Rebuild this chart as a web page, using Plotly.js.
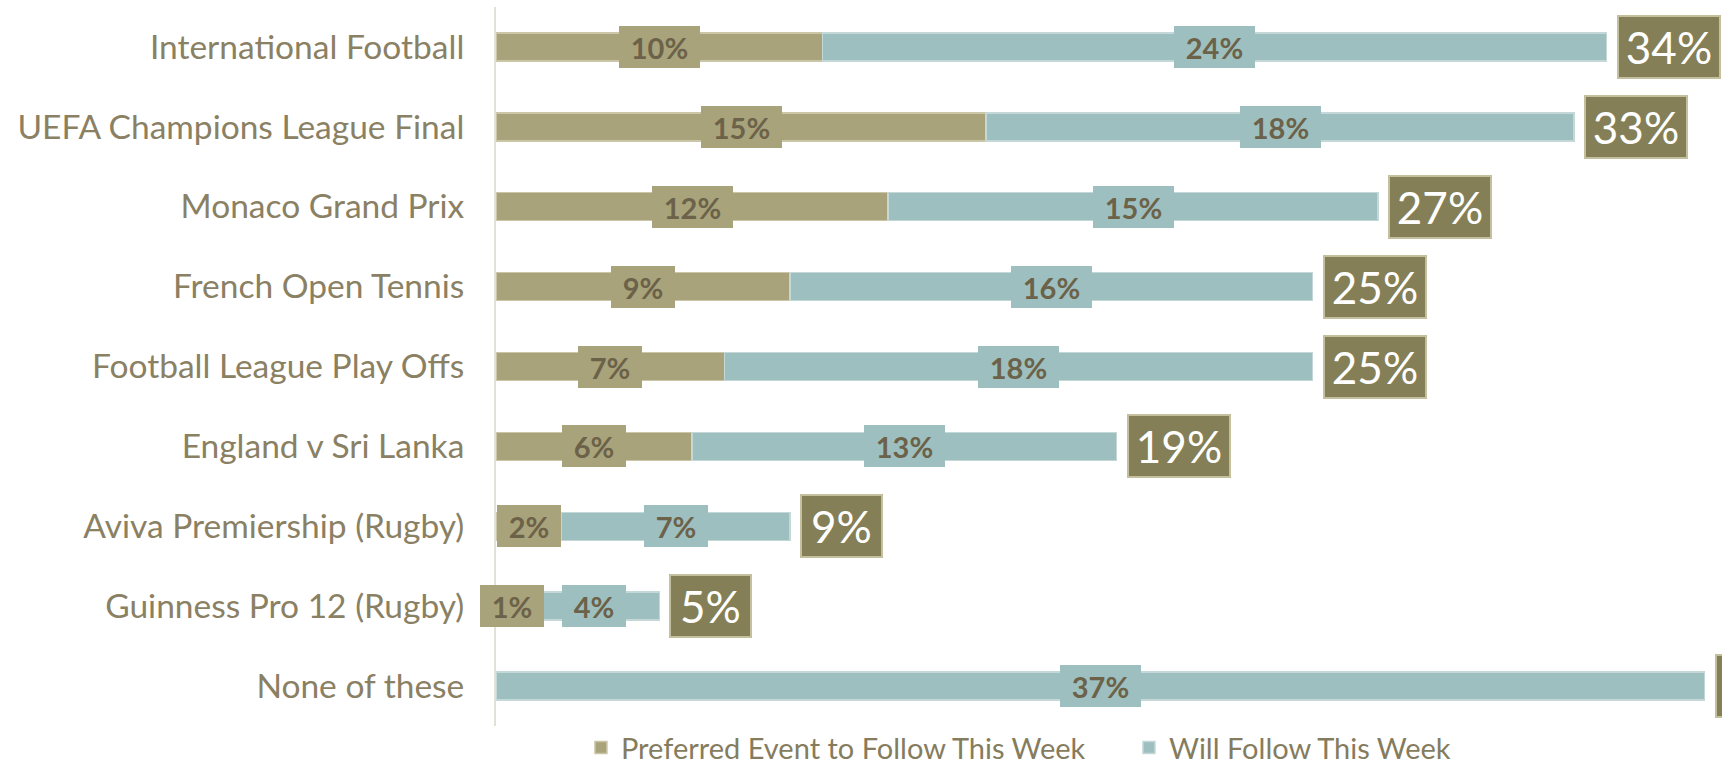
<!DOCTYPE html>
<html>
<head>
<meta charset="utf-8">
<script src="https://cdn.plot.ly/plotly-3.0.1.min.js"></script>
<style>
html,body{margin:0;padding:0;background:#fff;}
#chart{width:1722px;height:764px;}
</style>
</head>
<body>
<div id="chart"></div>
<script>
const categories = ['International Football','UEFA Champions League Final','Monaco Grand Prix','French Open Tennis','Football League Play Offs','England v Sri Lanka','Aviva Premiership (Rugby)','Guinness Pro 12 (Rugby)','None of these'];
const preferred = [10,15,12,9,7,6,2,1,0];
const willFollow = [24,18,15,16,18,13,7,4,37];
const totals = [34,33,27,25,25,19,9,5,37];
const seriesNames = ['Preferred Event to Follow This Week','Will Follow This Week'];

const TAN = '#a9a37b', TEAL = '#9ebfbf', DARK = '#857f57';
const LABEL = '#8a8063', INNER = '#6b6249';
const FONT = 'Lato, "Open Sans", sans-serif';

const traces = [
  {type:'bar', orientation:'h', name:seriesNames[0], y:categories, x:preferred,
   marker:{color:TAN, line:{color:'#cbc6a8', width:1.5}}, width:0.35, hoverinfo:'x+y'},
  {type:'bar', orientation:'h', name:seriesNames[1], y:categories, x:willFollow,
   marker:{color:TEAL, line:{color:'#c4d8d8', width:1.5}}, width:0.35, hoverinfo:'x+y'}
];

const annotations = [];
categories.forEach((c,i)=>{
  if (preferred[i] > 0) {
    const t = preferred[i] + '%';
    annotations.push({x:preferred[i]/2, y:c, xref:'x', yref:'y', text:'<b>'+t+'</b>', showarrow:false,
      bgcolor:TAN, borderpad:0, borderwidth:0, width:30+17*t.length, height:42,
      font:{family:FONT, size:29, color:INNER}});
  }
  if (willFollow[i] > 0) {
    const t = willFollow[i] + '%';
    annotations.push({x:preferred[i]+willFollow[i]/2, y:c, xref:'x', yref:'y', text:'<b>'+t+'</b>', showarrow:false,
      bgcolor:TEAL, borderpad:0, borderwidth:0, width:30+17*t.length, height:42,
      font:{family:FONT, size:29, color:INNER}});
  }
  const tt = totals[i] + '%';
  annotations.push({x:totals[i], y:c, xref:'x', yref:'y', text:tt, showarrow:false,
    xanchor:'left', xshift:10, bgcolor:DARK, bordercolor:'#c4bf9c', borderwidth:2, borderpad:0,
    width:37+21*tt.length, height:60,
    font:{family:FONT, size:44, color:'#ffffff'}});
});

const layout = {
  width:1722, height:764,
  margin:{l:496, r:0, t:6.5, b:37.5, autoexpand:false},
  paper_bgcolor:'#ffffff', plot_bgcolor:'#ffffff',
  barmode:'stack',
  bargap:0.65,
  showlegend:true,
  legend:{orientation:'h', x:0.0693, xanchor:'left', y:-0.030, yanchor:'middle',
    entrywidthmode:'pixels', entrywidth:503,
    font:{family:FONT, size:29, color:'#857c5e'}, traceorder:'normal'},
  xaxis:{range:[0,37.53], showgrid:false, zeroline:false, showticklabels:false, showline:false, fixedrange:true},
  yaxis:{type:'category', range:[8.5,-0.5], showgrid:false, zeroline:false,
    showline:true, linecolor:'#e3e0d8', linewidth:2, ticks:'', ticklabelstandoff:23,
    tickfont:{family:FONT, size:33.5, color:LABEL}, fixedrange:true},
  annotations:annotations
};

Plotly.newPlot('chart', traces, layout, {displayModeBar:false, staticPlot:true});
</script>
</body>
</html>
